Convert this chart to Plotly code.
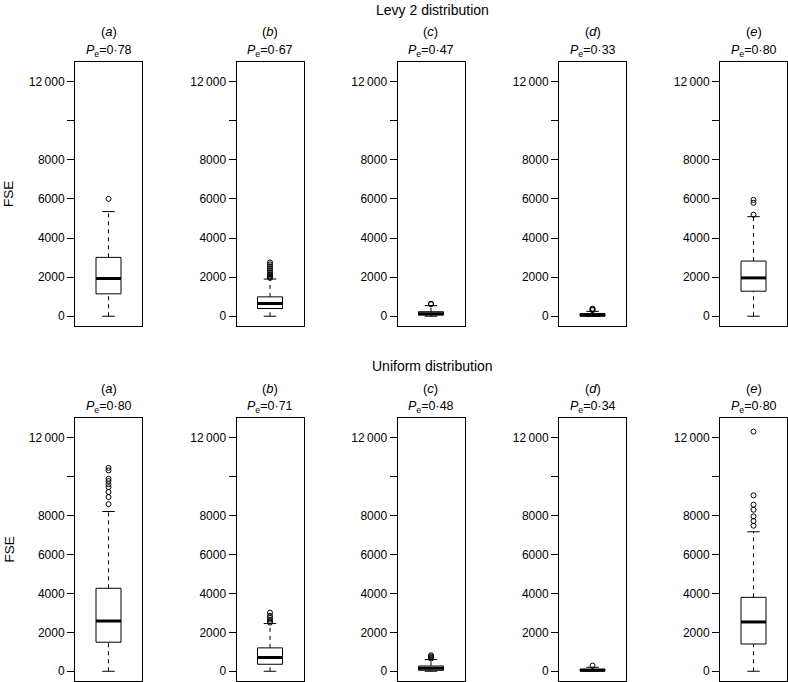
import plotly.graph_objects as go

# ---------------- data ----------------
panel_letters = ["a", "b", "c", "d", "e"]
row_titles = ["Levy 2 distribution", "Uniform distribution"]
pe_levy = ["0·78", "0·67", "0·47", "0·33", "0·80"]
pe_unif = ["0·80", "0·71", "0·48", "0·34", "0·80"]

# box statistics: lower whisker, q1, median, q3, upper whisker
levy_lo = [0, 0, 0, 0, 0]
levy_q1 = [1145, 395, 60, 10, 1280]
levy_med = [1930, 650, 130, 50, 1960]
levy_q3 = [3010, 990, 230, 140, 2820]
levy_hi = [5350, 1900, 540, 250, 5090]
levy_out = [
    [6000],
    [1960, 2020, 2080, 2150, 2250, 2350, 2450, 2550, 2650, 2750],
    [610, 640],
    [310, 350, 390],
    [5190, 5800, 5950],
]

unif_lo = [0, 0, 0, 0, 0]
unif_q1 = [1490, 360, 50, 10, 1400]
unif_med = [2580, 700, 150, 50, 2530]
unif_q3 = [4260, 1200, 270, 110, 3795]
unif_hi = [8200, 2450, 600, 205, 7160]
unif_out = [
    [8580, 8940, 9200, 9450, 9600, 9760, 9880, 10310, 10440],
    [2500, 2560, 2650, 2750, 2850, 3010],
    [650, 700, 760, 820],
    [290],
    [7470, 7710, 7950, 8290, 8550, 9030, 12300],
]

y_tickvals = [0, 2000, 4000, 6000, 8000, 10000, 12000]
y_ticktext = ["0", "2000", "4000", "6000", "8000", " ", "12\u2009000"]

# ---------------- layout geometry ----------------
W, H = 788, 682
FONT = "Liberation Sans, Arial, Helvetica, sans-serif"
panel_left_px = [75, 236.5, 397.5, 559, 720]
panel_w_px = 67
row_px = [(62, 326), (418, 681)]  # (top, bottom) in pixels
Y_RANGE = [-500, 13000]
HW = 0.373  # box half width in x units (range -1..1)
CAP = HW / 2

fig = go.Figure()
layout = dict(
    width=W, height=H,
    margin=dict(l=0, r=0, t=0, b=0),
    paper_bgcolor="white", plot_bgcolor="white",
    showlegend=False,
    font=dict(family=FONT, size=12, color="black"),
)
annotations = []

rows = [
    (levy_lo, levy_q1, levy_med, levy_q3, levy_hi, levy_out, pe_levy),
    (unif_lo, unif_q1, unif_med, unif_q3, unif_hi, unif_out, pe_unif),
]


def line_trace(xs, ys, xa, ya, width=1, dash="solid", fill=None):
    return go.Scatter(
        x=xs, y=ys, xaxis=xa, yaxis=ya, mode="lines",
        line=dict(color="black", width=width, dash=dash),
        fill=fill, fillcolor="white" if fill else None,
        hoverinfo="skip",
    )


k = 0
for r, (lo, q1, med, q3, hi, outs, pes) in enumerate(rows):
    top_px, bot_px = row_px[r]
    ydom = [1 - bot_px / H, 1 - top_px / H]
    for c in range(5):
        k += 1
        xa = "x" if k == 1 else f"x{k}"
        ya = "y" if k == 1 else f"y{k}"
        xkey = "xaxis" if k == 1 else f"xaxis{k}"
        ykey = "yaxis" if k == 1 else f"yaxis{k}"
        x0 = panel_left_px[c] / W
        x1 = (panel_left_px[c] + panel_w_px) / W
        layout[xkey] = dict(
            domain=[x0, x1], range=[-1, 1], anchor=ya,
            showline=True, mirror=True, linecolor="black", linewidth=1,
            showgrid=False, zeroline=False, showticklabels=False, ticks="",
            fixedrange=True,
        )
        layout[ykey] = dict(
            domain=ydom, range=Y_RANGE, anchor=xa,
            showline=True, mirror=True, linecolor="black", linewidth=1,
            showgrid=False, zeroline=False,
            tickmode="array", tickvals=y_tickvals, ticktext=y_ticktext,
            ticks="outside", ticklen=7, tickwidth=1, tickcolor="black",
            tickfont=dict(family=FONT, size=12, color="black"),
            fixedrange=True,
        )
        # whiskers (dashed)
        fig.add_trace(line_trace([0, 0], [q3[c], hi[c]], xa, ya, dash="4px,4px"))
        fig.add_trace(line_trace([0, 0], [lo[c], q1[c]], xa, ya, dash="4px,4px"))
        # caps
        fig.add_trace(line_trace([-CAP, CAP], [hi[c], hi[c]], xa, ya))
        fig.add_trace(line_trace([-CAP, CAP], [lo[c], lo[c]], xa, ya))
        # box
        fig.add_trace(line_trace([-HW, HW, HW, -HW, -HW],
                                 [q1[c], q1[c], q3[c], q3[c], q1[c]],
                                 xa, ya, fill="toself"))
        # median
        fig.add_trace(line_trace([-HW, HW], [med[c], med[c]], xa, ya, width=3))
        # outliers
        fig.add_trace(go.Scatter(
            x=[0] * len(outs[c]), y=outs[c], xaxis=xa, yaxis=ya, mode="markers",
            marker=dict(symbol="circle-open", size=5, color="black",
                        line=dict(width=1, color="black")),
            hoverinfo="skip",
        ))
        cx = (panel_left_px[c] + panel_w_px / 2) / W
        annotations.append(dict(
            text=f"(<i>{panel_letters[c]}</i>)", x=cx, y=1 - (top_px - 30) / H,
            xref="paper", yref="paper", xanchor="center", yanchor="middle",
            showarrow=False, font=dict(family=FONT, size=13, color="black"),
        ))
        annotations.append(dict(
            text=f"<i>P</i><sub>e</sub>={pes[c]}", x=cx, y=1 - (top_px - 11) / H,
            xref="paper", yref="paper", xanchor="center", yanchor="middle",
            showarrow=False, font=dict(family=FONT, size=12.5, color="black"),
        ))
    # row title
    annotations.append(dict(
        text=row_titles[r], x=432 / W, y=1 - (top_px - 52) / H,
        xref="paper", yref="paper", xanchor="center", yanchor="middle",
        showarrow=False, font=dict(family=FONT, size=14, color="black"),
    ))
    # FSE y label
    annotations.append(dict(
        text="FSE", x=9 / W, y=1 - ((top_px + bot_px) / 2) / H,
        xref="paper", yref="paper", xanchor="center", yanchor="middle",
        textangle=-90, showarrow=False,
        font=dict(family=FONT, size=13.5, color="black"),
    ))

layout["annotations"] = annotations
fig.update_layout(**layout)
fig.write_html(
    "out.html",
    config={"displayModeBar": False},
    post_script="document.body.style.margin='0';document.body.style.overflow='hidden';",
)
